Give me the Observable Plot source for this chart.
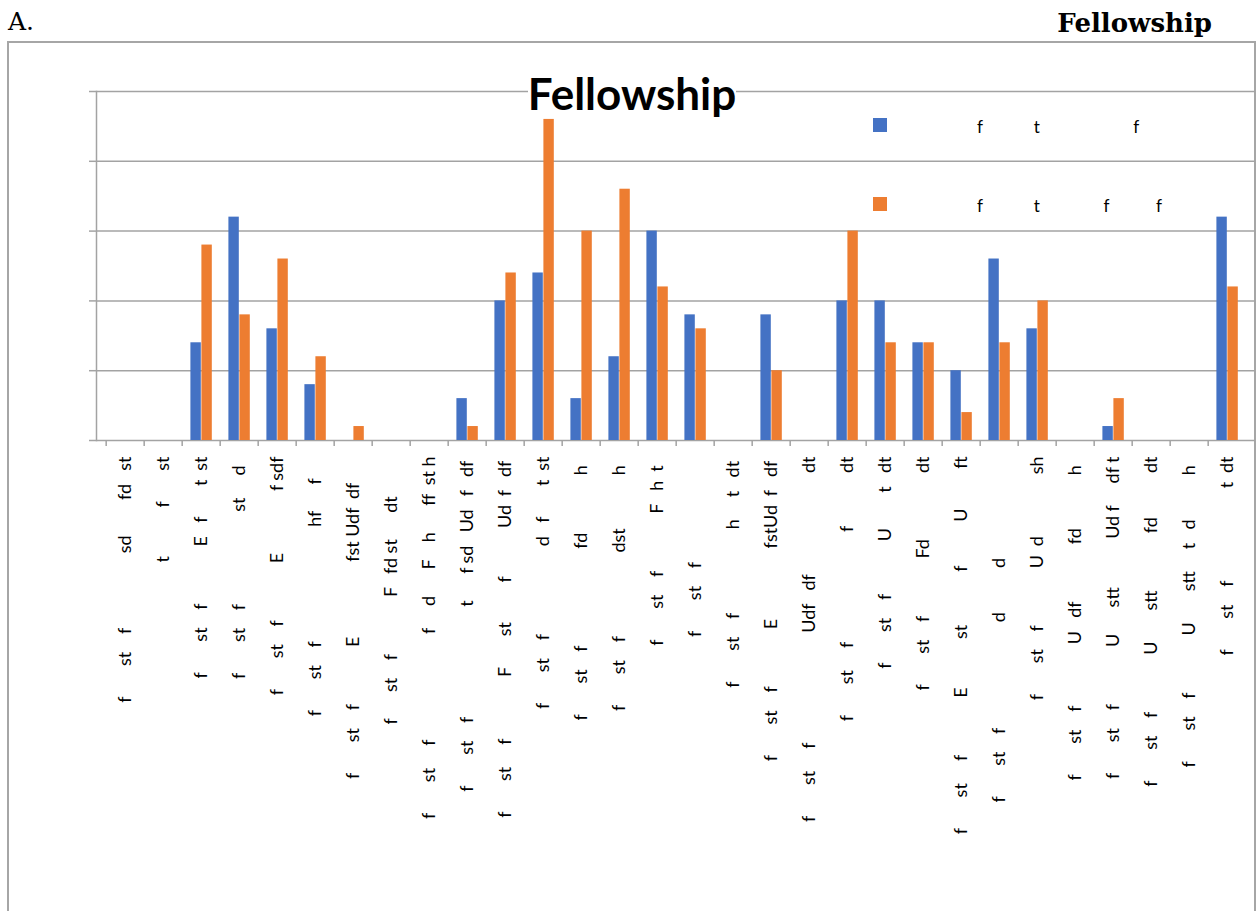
<!DOCTYPE html>
<html>
<head>
<meta charset="utf-8">
<script src="https://cdn.jsdelivr.net/npm/d3@7"></script>
<script src="https://cdn.jsdelivr.net/npm/@observablehq/plot@0.6"></script>
<style>
  html, body { margin: 0; padding: 0; background: #fff; }
  #page { position: relative; width: 1256px; height: 911px; overflow: hidden; }
  #chart { position: absolute; left: 0; top: 0; }
  #chart svg text { white-space: pre; word-spacing: -0.2px; }
  .hdr { position: absolute; line-height: 1; white-space: pre; color: #000; }
  #hdrA { left: 8px; top: 7px; font: 25px "DejaVu Serif", serif; }
  #hdrR { right: 44px; top: 8px; font: bold 26px "DejaVu Serif", serif; }
  #box { position: absolute; left: 7px; top: 41px; width: 1245px; height: 900px;
         border: 2px solid #a6a6a6; border-bottom: none; }
  #title { position: absolute; left: 0; width: 1264px; top: 71px; text-align: center; z-index: 3; }
  #title span { font: bold 44px Lato, sans-serif; line-height: 1; background: #fff; display: inline-block; }
  .leg { position: absolute; left: 873px; z-index: 3; display: flex; align-items: flex-start;
         font: 17px Lato, sans-serif; line-height: 1; white-space: pre; word-spacing: -0.1px; }
  .leg i { display: inline-block; width: 14px; height: 14px; margin-right: 5px; }
</style>
</head>
<body>
<div id="page">
  <div id="box"></div>
  <div id="chart"></div>
  <div class="hdr" id="hdrA"></div>
  <div class="hdr" id="hdrR"></div>
  <div id="title"><span></span></div>
  <div id="legend"></div>
</div>
<script>
// ---- data ----
const headerLeft = "A.";
const headerRight = "Fellowship";
const chartTitle = "Fellowship";

const categories = d3.range(1, 31);

const seriesNames = [
  "                    f            t                      f",
  "                    f            t               f           f"
];
const seriesColors = ["#4472C4", "#ED7D31"];

const seriesBlue   = [0,0,7,16,8,4,0,0,0,3,10,12,3,6,15,9,0,9,0,10,10,7,5,13,8,0,1,0,0,16];
const seriesOrange = [0,0,14,9,13,6,1,0,0,1,12,23,15,18,11,8,0,5,0,15,7,7,2,7,10,0,3,0,0,11];

const categoryLabels = [
  "f       st    f                 sd        fd   st",
  "t           f       st",
  "f       st    f             E   f       t  st",
  "f       st    f                     st     d  ",
  "f       st    f             E              f sdf",
  "f       st    f                          hf      f     ",
  "f       st    f             E                 fst Udf  df      ",
  "f      st    f             F   fd st      dt         ",
  "f       st     f                        f     d      F    h      ff  st h",
  "f       st    f                         t      f sd   Ud   f   df ",
  "f       st     f              F       st         f           Ud  f   df ",
  "f       st    f                    d   f       t  st",
  "f       st    f                      fd             h  ",
  "f       st    f                   dst            h  ",
  "f       st    f             F   h  t  ",
  "f       st    f                        ",
  "f       st    f                   h     t   dt ",
  "f       st    f             E                fstUd  f   df ",
  "f       st     f                         Udf   df                       dt",
  "f       st     f                         f            dt",
  "f       st    f            U        t   dt",
  "f       st    f             Fd               dt",
  "f       st     f             E           st            f          U         ft",
  "f       st    f                        d          d                       ",
  "f       st    f             U  d              sh",
  "f       st    f              U   df             fd            h  ",
  "f       st    f             U      stt           Ud f     df t",
  "f       st    f             U       stt             fd          dt",
  "f       st    f             U       stt     t   d          h  ",
  "f       st    f                     t  dt"
];

const yTicks = [0, 5, 10, 15, 20, 25];

// ---- header / title / legend ----
document.getElementById("hdrA").textContent = headerLeft;
document.getElementById("hdrR").textContent = headerRight;
document.querySelector("#title span").textContent = chartTitle;

const legendTops = [118, 197];
const legend = document.getElementById("legend");
seriesNames.forEach((name, i) => {
  const row = document.createElement("div");
  row.className = "leg";
  row.style.top = legendTops[i] + "px";
  const sw = document.createElement("i");
  sw.style.background = seriesColors[i];
  const tx = document.createElement("span");
  tx.textContent = name;
  row.appendChild(sw);
  row.appendChild(tx);
  legend.appendChild(row);
});

// ---- chart ----
const W = 1256, H = 911, mL = 96, mR = 1, mT = 91, mB = 471;
const bw = (W - mL - mR) / categories.length;
const rows = categories.map((c, i) => ({c, blue: seriesBlue[i], orange: seriesOrange[i]}));
const gray = "#a3a3a3";

const chart = Plot.plot({
  width: W, height: H,
  marginTop: mT, marginBottom: mB, marginLeft: mL, marginRight: mR,
  style: {fontFamily: "Lato, sans-serif", fontSize: "18px", color: "#000", background: "transparent", overflow: "visible"},
  x: {type: "band", domain: categories, padding: 0, axis: null, label: null},
  y: {domain: [0, 25], axis: null, label: null},
  marks: [
    Plot.gridY(yTicks, {stroke: gray, strokeOpacity: 1, strokeWidth: 1.5}),
    Plot.axisY(yTicks, {tickSize: 7, tickFormat: () => "", stroke: gray, strokeWidth: 1.5, label: null}),
    Plot.frame({anchor: "left", stroke: gray, strokeWidth: 1.5}),
    Plot.axisX(categories, {tickSize: 6, tickFormat: () => "", dx: -bw / 2, stroke: gray, strokeWidth: 1.5, label: null}),
    Plot.axisX(categories, {tickSize: 0, tickPadding: 16, tickRotate: -90, label: null,
      tickFormat: (d) => categoryLabels[d - 1], fill: "#000", fontSize: 18}),
    Plot.barY(rows, {x: "c", y: "blue", fill: seriesColors[0], insetLeft: 8.4, insetRight: 19.2}),
    Plot.barY(rows, {x: "c", y: "orange", fill: seriesColors[1], insetLeft: 19.4, insetRight: 8.2})
  ]
});
document.getElementById("chart").appendChild(chart);
</script>
</body>
</html>
